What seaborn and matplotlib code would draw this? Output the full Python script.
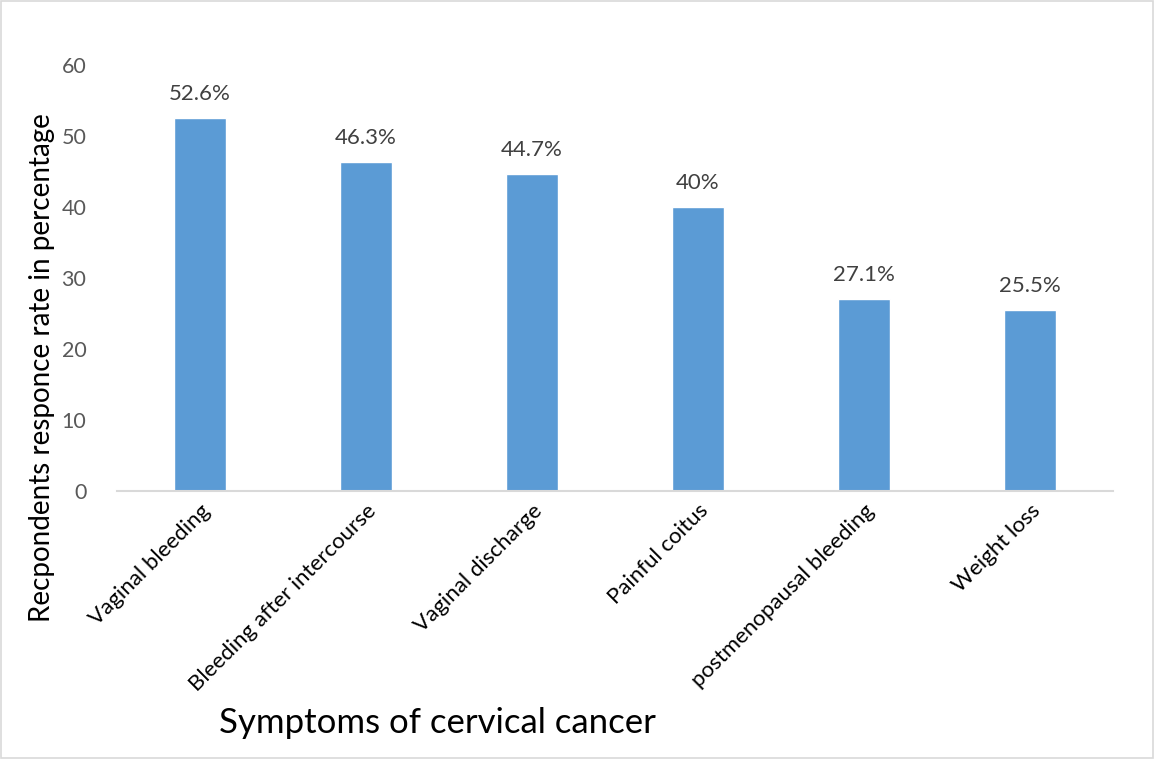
import matplotlib
matplotlib.use("Agg")
import matplotlib.pyplot as plt
import seaborn as sns
import pandas as pd
from matplotlib.patches import Rectangle

categories = ["Vaginal bleeding", "Bleeding after intercourse", "Vaginal discharge",
              "Painful coitus", "postmenopausal bleeding", "Weight loss"]
values = [52.6, 46.3, 44.7, 40.0, 27.1, 25.5]
value_labels = ["52.6%", "46.3%", "44.7%", "40%", "27.1%", "25.5%"]
yticks = [0, 10, 20, 30, 40, 50, 60]

sns.set_theme(style="white")
plt.rcParams['font.family'] = ['Lato', 'DejaVu Sans']

df = pd.DataFrame({"symptom": categories, "value": values})

fig = plt.figure(figsize=(11.54, 7.59), dpi=100)
ax = fig.add_axes([0.1014, 0.3531, 0.8631, 0.5613])
sns.barplot(data=df, x="symptom", y="value", color="#5B9BD5", width=0.31,
            saturation=1, ax=ax)

ax.set_ylim(0, 60)
ax.set_xlim(-0.5, len(categories) - 0.5)
ax.set_yticks(yticks)
ax.set_yticklabels([str(t) for t in yticks], fontsize=15.5, color="#595959")
ax.tick_params(axis='y', length=0, pad=22)
ax.tick_params(axis='x', length=0, pad=7)
ax.set_xticks(range(len(categories)))
ax.set_xticklabels(categories, rotation=45, ha='right', rotation_mode='anchor',
                   fontsize=16, color="#000000")

for s in ["top", "right", "left"]:
    ax.spines[s].set_visible(False)
ax.spines["bottom"].set_color("#D9D9D9")
ax.spines["bottom"].set_linewidth(1.5)

for i, (v, lab) in enumerate(zip(values, value_labels)):
    ax.annotate(lab, (i, v), xytext=(0, 10), textcoords="offset points",
                ha='center', va='bottom', fontsize=16, color="#404040")

ax.set_xlabel("")
ax.set_ylabel("")
fig.text(0.036, 0.516, "Recpondents responce rate in percentage", rotation=90,
         ha='center', va='center', fontsize=20, color="#000000")
fig.text(0.19, 0.048, "Symptoms of cervical cancer", ha='left', va='center',
         fontsize=25, color="#000000")

fig.patches.append(Rectangle((0.001, 0.001), 0.998, 0.998, transform=fig.transFigure,
                             fill=False, edgecolor="#D9D9D9", linewidth=1.2))

fig.savefig("out.png", dpi=100, facecolor="white")
